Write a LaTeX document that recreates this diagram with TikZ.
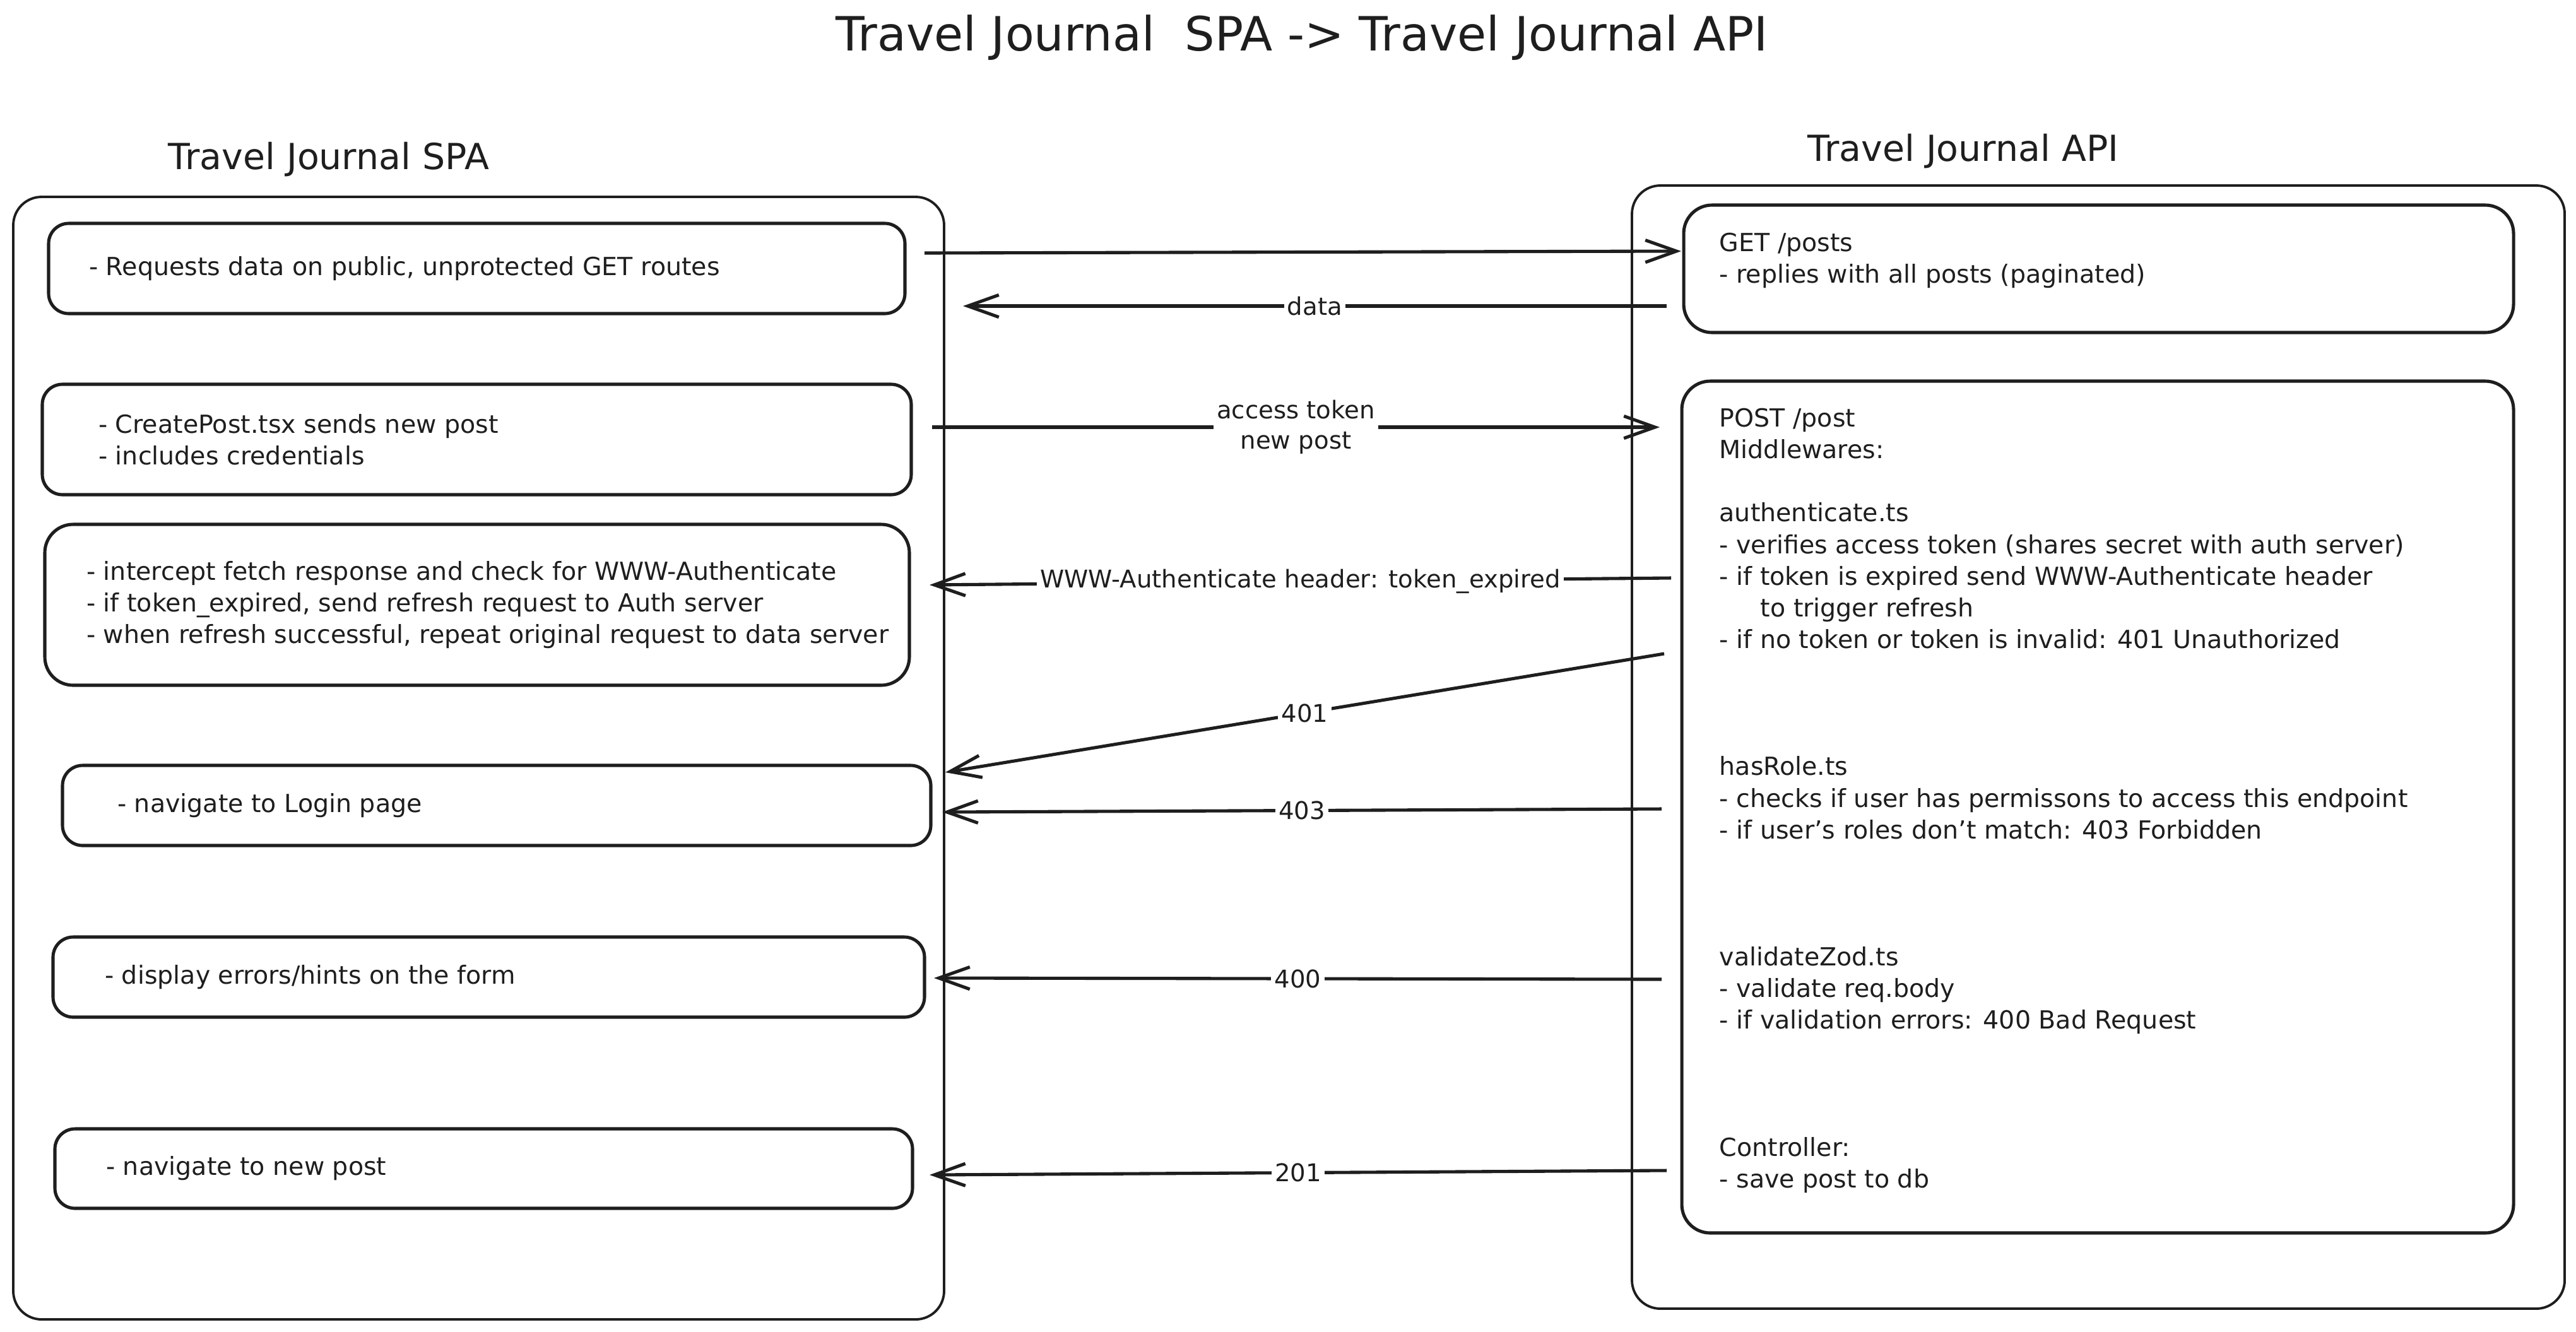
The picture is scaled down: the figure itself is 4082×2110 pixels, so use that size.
\documentclass[tikz,border=0pt]{standalone}
\usepackage{fontspec}
\setmainfont{DejaVu Sans}
\usetikzlibrary{arrows.meta,calc}
\definecolor{ink}{RGB}{30,30,30}
\begin{document}
\begin{tikzpicture}[x=0.1mm,y=-0.1mm,
  outer/.style={draw=ink, line width=1.1pt, rectangle, rounded corners=4.5mm, inner sep=0pt},
  box/.style={draw=ink, line width=1.45pt, rectangle, rounded corners=3.2mm, inner sep=0pt},
  bigbox/.style={box, rounded corners=4.5mm},
  txt/.style={text=ink, align=left, inner sep=0pt, font=\fontsize{11.25}{14.3}\selectfont},
  heading/.style={text=ink, inner sep=0pt, font=\fontsize{16.2}{19}\selectfont},
  arr/.style={draw=ink, line width=1.45pt, -{Straight Barb[length=14pt,width=10pt,line width=1.45pt]}},
  lbl/.style={fill=white, text=ink, inner sep=1.5pt, align=center, font=\fontsize{11}{13.5}\selectfont}
]
\useasboundingbox (0,0) rectangle (4082,2110);

% title and headings
\node[text=ink, inner sep=0pt, anchor=base, font=\fontsize{21.3}{25}\selectfont] (title) at (2063,80) {Travel Journal\ \ SPA -> Travel Journal API};
\node[heading, anchor=base] (spah) at (521,268) {Travel Journal SPA};
\node[heading, anchor=base] (apih) at (3111,255) {Travel Journal API};

% outer frames
\node[outer, minimum width=147.5mm, minimum height=177.9mm] (spa) at (758.5,1201.5) {};
\node[outer, minimum width=147.8mm, minimum height=178.0mm] (api) at (3325,1184) {};

% SPA boxes
\node[box, minimum width=135.7mm, minimum height=14.3mm] (b1) at (755.5,425.5) {};
\node[box, minimum width=137.7mm, minimum height=17.5mm] (b2) at (755.5,696.5) {};
\node[bigbox, minimum width=137.0mm, minimum height=25.5mm] (b3) at (756,958.5) {};
\node[box, minimum width=137.6mm, minimum height=12.7mm] (b4) at (787,1276.5) {};
\node[box, minimum width=138.1mm, minimum height=12.7mm] (b5) at (774.5,1548.5) {};
\node[box, minimum width=135.9mm, minimum height=12.6mm] (b6) at (766.5,1852) {};

\node[txt, anchor=west] (t1) at ($(b1.west)+(66,0)$) {- Requests data on public, unprotected GET routes};
\node[txt, anchor=west] (t2) at ($(b2.west)+(91,0)$) {- CreatePost.tsx sends new post\\- includes credentials};
\node[txt, anchor=west] (t3) at ($(b3.west)+(68,0)$) {- intercept fetch response and check for WWW-Authenticate\\- if token\_expired, send refresh request to Auth server\\- when refresh successful, repeat original request to data server};
\node[txt, anchor=west] (t4) at ($(b4.west)+(89,0)$) {- navigate to Login page};
\node[txt, anchor=west] (t5) at ($(b5.west)+(84,0)$) {- display errors/hints on the form};
\node[txt, anchor=west] (t6) at ($(b6.west)+(83,0)$) {- navigate to new post};

% API boxes
\node[bigbox, minimum width=131.5mm, minimum height=20.2mm] (a1) at (3325.5,426) {};
\node[bigbox, minimum width=131.8mm, minimum height=135.0mm] (a2) at (3324,1279) {};

\node[txt, anchor=north west] (ta1) at (2724,368) {GET /posts\\- replies with all posts (paginated)};
\node[txt, anchor=north west] (ta2) at (2724,646) {POST /post\\Middlewares:\\[14.3pt]
authenticate.ts\\
- verifies access token (shares secret with auth server)\\
- if token is expired send WWW-Authenticate header\\
\hspace*{18.5pt}to trigger refresh\\
- if no token or token is invalid: 401 Unauthorized\\[42.9pt]
hasRole.ts\\
- checks if user has permissons to access this endpoint\\
- if user's roles don't match: 403 Forbidden\\[42.9pt]
validateZod.ts\\
- validate req.body\\
- if validation errors: 400 Bad Request\\[42.9pt]
Controller:\\
- save post to db};

% connector end points
\coordinate (getS) at (1465,401);   \coordinate (getE) at (2664,398);
\coordinate (datS) at (2641,485);   \coordinate (datE) at (1526,485);
\coordinate (posS) at (1477,677);   \coordinate (posE) at (2630,677);
\coordinate (wwwS) at (2648,916);   \coordinate (wwwE) at (1473,927);
\coordinate (r401S) at (2637,1036); \coordinate (r401E) at (1498,1224);
\coordinate (r403S) at (2633,1282); \coordinate (r403E) at (1493,1287);
\coordinate (r400S) at (2633,1552); \coordinate (r400E) at (1480,1550);
\coordinate (r201S) at (2641,1855); \coordinate (r201E) at (1473,1862);

\draw[arr] (getS) -- (getE);
\draw[arr] (datS) -- node[lbl] (ldat) {data} (datE);
\draw[arr] (posS) -- node[lbl] (lpos) {access token\\new post} (posE);
\draw[arr] (wwwS) -- node[lbl] (lwww) {WWW-Authenticate header: token\_expired} (wwwE);
\draw[arr] (r401S) -- node[lbl] (l401) {401} (r401E);
\draw[arr] (r403S) -- node[lbl] (l403) {403} (r403E);
\draw[arr] (r400S) -- node[lbl] (l400) {400} (r400E);
\draw[arr] (r201S) -- node[lbl] (l201) {201} (r201E);
\end{tikzpicture}
\end{document}
